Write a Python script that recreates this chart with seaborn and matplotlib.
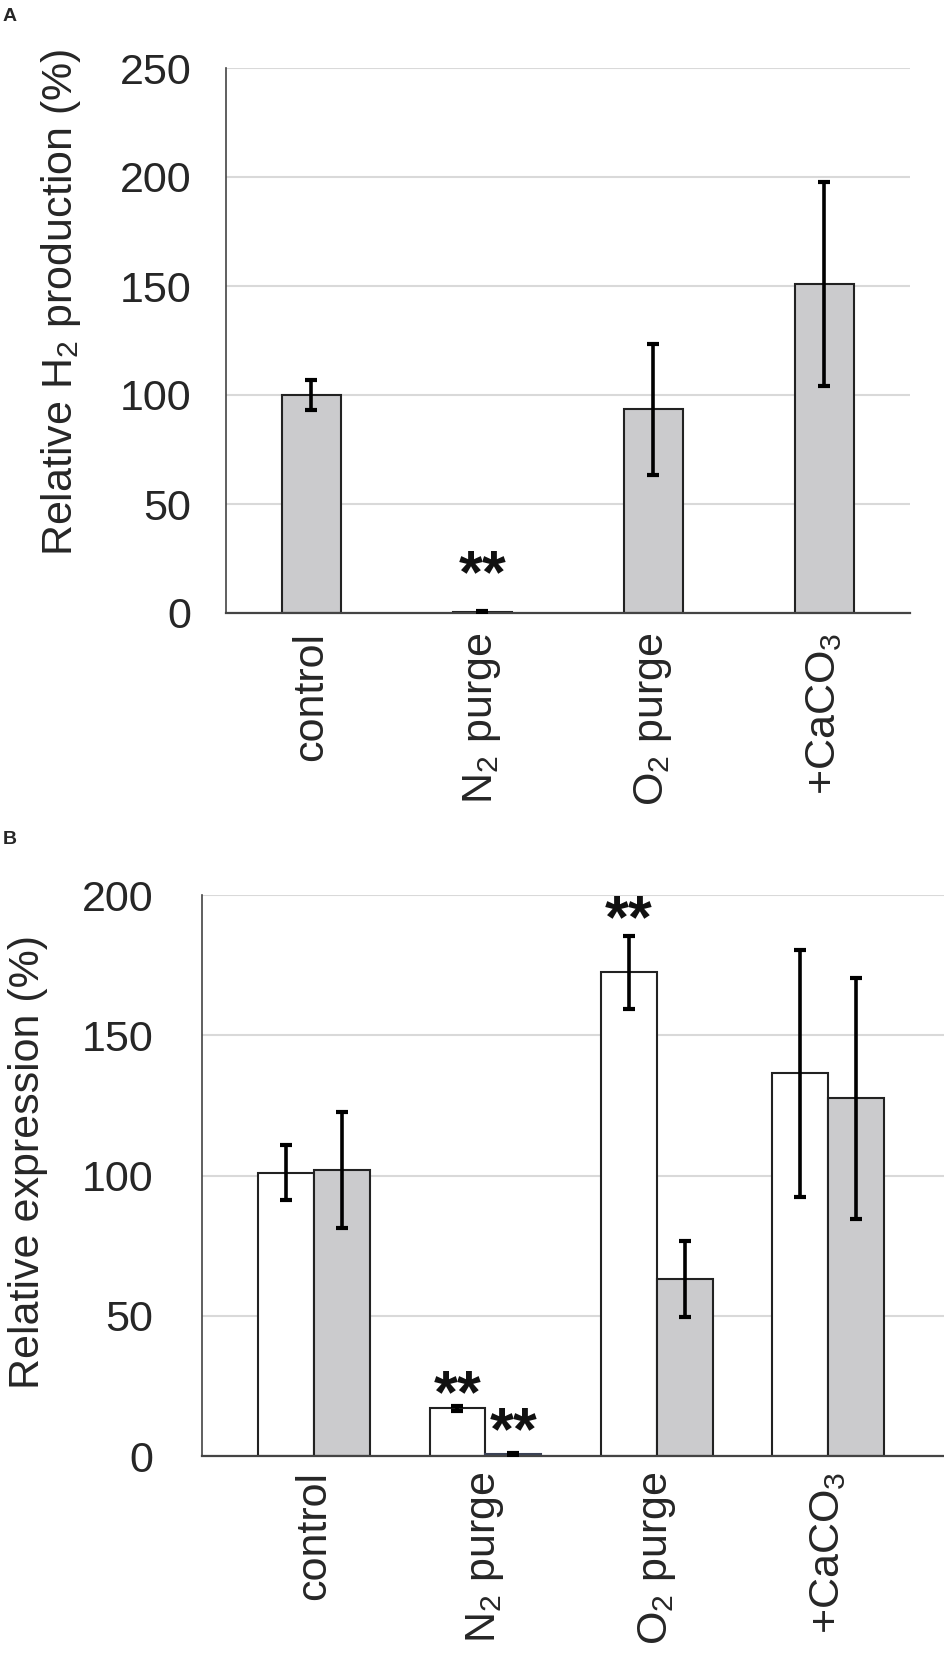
import numpy as np
import pandas as pd
import seaborn as sns
import matplotlib.pyplot as plt

# conditions shared by both panels
conditions = ["control", "N2 purge", "O2 purge", "+CaCO3"]
condition_labels = ["control", r"$\mathregular{N_2}$ purge",
                    r"$\mathregular{O_2}$ purge", r"+Ca$\mathregular{CO_3}$"]

# panel A: relative H2 production (%)
h2_values = [100.0, 0.4, 93.5, 151.0]
h2_errors = [6.8, 0.4, 30.0, 46.7]
h2_stars = [("N2 purge", 16.5)]

# panel B: relative expression (%), two series (open / filled bars)
series = ["open", "filled"]
expr_open = [101.0, 17.0, 172.5, 136.5]
expr_open_err = [9.7, 1.0, 13.0, 44.0]
expr_filled = [102.0, 0.8, 63.0, 127.5]
expr_filled_err = [20.6, 0.3, 13.5, 43.0]
expr_stars = [("open", "N2 purge", 21.0), ("filled", "N2 purge", 7.8),
              ("open", "O2 purge", 190.5)]

GRAY = "#cbcbcd"
EDGE = "#222222"
GRID = "#d9d9d9"

sns.set_style("white")
plt.rcParams["font.family"] = ["Liberation Sans", "DejaVu Sans"]
plt.rcParams["mathtext.default"] = "regular"

W, H = 945, 1654
fig = plt.figure(figsize=(W / 100, H / 100), dpi=100)


def box(left, right, top, bottom):
    return [left / W, 1 - bottom / H, (right - left) / W, (bottom - top) / H]


axA = fig.add_axes(box(226, 910, 68, 613))
axB = fig.add_axes(box(202, 945, 895, 1456))


def style_axis(ax, ymax, ystep, ypad, xpad):
    ax.set_ylim(0, ymax)
    ax.set_yticks(np.arange(0, ymax + 1, ystep))
    ax.yaxis.grid(True, color=GRID, linewidth=1.5)
    ax.set_axisbelow(True)
    for side in ["top", "right"]:
        ax.spines[side].set_visible(False)
    ax.spines["left"].set_color("#444444")
    ax.spines["left"].set_linewidth(1.2)
    ax.spines["bottom"].set_color("#444444")
    ax.spines["bottom"].set_linewidth(1.6)
    ax.tick_params(axis="y", length=0, pad=ypad, labelsize=31)
    ax.tick_params(axis="x", length=0, pad=xpad, labelsize=31)
    ax.set_xticks(range(len(conditions)))
    ax.set_xticklabels(condition_labels, rotation=90)
    ax.set_xlabel("")


def add_errors(ax, container, errs):
    xs = [p.get_x() + p.get_width() / 2 for p in container]
    ys = [p.get_height() for p in container]
    ax.errorbar(xs, ys, yerr=errs, fmt="none", ecolor="black",
                elinewidth=2.6, capsize=4, capthick=3, zorder=5)
    return xs


def add_stars(ax, x, y):
    ax.text(x, y, "**", ha="center", va="center", fontsize=44,
            fontweight="bold", color="#111111")


# ---- panel A ----
dfA = pd.DataFrame({"condition": conditions, "value": h2_values})
sns.barplot(data=dfA, x="condition", y="value", order=conditions, color=GRAY,
            saturation=1, width=0.35, edgecolor=EDGE, linewidth=1.5,
            errorbar=None, ax=axA)
xsA = add_errors(axA, axA.containers[0], h2_errors)
for cond, y in h2_stars:
    add_stars(axA, xsA[conditions.index(cond)], y)
style_axis(axA, 250, 50, 25, 14)
axA.set_xlim(-0.5, 3.5)
axA.set_ylabel(r"Relative $\mathregular{H_2}$ production (%)", fontsize=31)
axA.yaxis.set_label_coords(-0.209, 0.57)

# ---- panel B ----
dfB = pd.DataFrame({
    "condition": conditions * 2,
    "series": [series[0]] * 4 + [series[1]] * 4,
    "value": expr_open + expr_filled,
})
sns.barplot(data=dfB, x="condition", y="value", hue="series", order=conditions,
            hue_order=series, palette={"open": "white", "filled": GRAY},
            saturation=1, width=0.652, gap=0, edgecolor=EDGE, linewidth=1.5,
            errorbar=None, legend=False, ax=axB)
# the near-zero filled bar is drawn with a dark slate outline in the original
tiny = axB.containers[1][conditions.index("N2 purge")]
tiny.set_facecolor("#5a6078")
tiny.set_edgecolor("#3b4256")

xsB = {}
for name, cont, errs in zip(series, axB.containers, [expr_open_err, expr_filled_err]):
    xsB[name] = add_errors(axB, cont, errs)
for name, cond, y in expr_stars:
    add_stars(axB, xsB[name][conditions.index(cond)], y)
style_axis(axB, 200, 50, 35, 11)
axB.set_xlim(-0.653, 3.68)
axB.set_ylabel("Relative expression (%)", fontsize=31)
axB.yaxis.set_label_coords(-0.207, 0.524)

fig.text(3 / W, 1 - 8 / H, "A", fontsize=14, fontweight="bold", va="top")
fig.text(3 / W, 1 - 831 / H, "B", fontsize=14, fontweight="bold", va="top")

fig.savefig("out.png", dpi=100)
